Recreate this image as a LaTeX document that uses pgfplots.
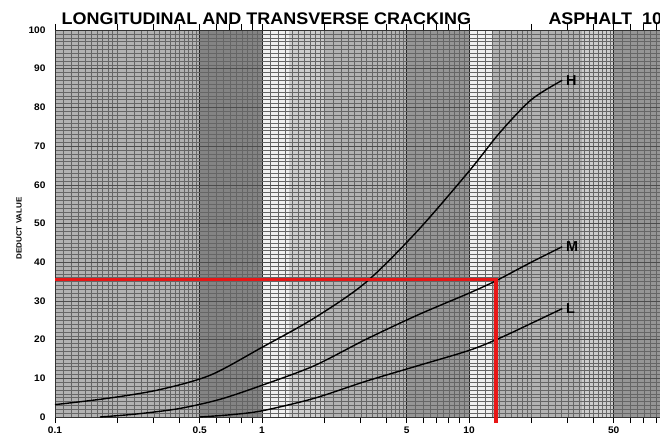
\documentclass[border=0pt]{standalone}
\usepackage{fontspec}
\setmainfont{Liberation Sans}
\newfontfamily\titlefont[FakeStretch=1.07]{Liberation Sans Bold}
\usepackage{pgfplots}
\pgfplotsset{compat=1.18}
\definecolor{chartRed}{RGB}{232,22,22}
\definecolor{bandMid}{RGB}{178,178,178}
\definecolor{bandDark}{RGB}{132,132,132}
\definecolor{bandDeep}{RGB}{150,150,150}
\definecolor{bandLight}{RGB}{205,205,205}
\definecolor{bandWhite}{RGB}{240,240,240}

\begin{document}
\begin{tikzpicture}
\begin{axis}[
    set layers,
    xmode=log,
    scale only axis, width=621pt, height=387pt,
    xmin=0.1, xmax=100, ymin=0, ymax=100,
    clip=false,
    xtick={0.1,0.5,1,5,10,50,100},
    xticklabels={0.1,0.5,1,5,10,50,100},
    ytick={0,10,...,100},
    minor xtick={0.1,0.11,...,0.2, 0.2,0.22,...,0.5, 0.5,0.55,...,1,
                 1,1.1,...,2, 2,2.2,...,5, 5,5.5,...,10,
                 10,11,...,20, 20,22,...,50, 50,55,...,100},
    minor ytick={0,1,...,100},
    grid=both,
    minor x grid style={black!60, line width=0.4pt},
    minor y grid style={black!60, line width=0.4pt},
    major x grid style={black!85, line width=0.7pt},
    major y grid style={black!70, line width=0.5pt},
    minor tick length=0pt,
    tick align=outside,
    major tick length=6pt,
    ytick style={draw=none},
    xtick style={black, line width=0.9pt},
    extra x ticks={0.2,0.3,0.4,0.6,0.7,0.8,0.9,2,3,4,6,7,8,9,20,30,40,60,70,80,90},
    extra x tick labels={},
    extra x tick style={grid=none},
    axis line style={black!80, line width=0.8pt},
    tick label style={font=\titlefont\fontsize{9.5}{10}\selectfont},
    /pgf/number format/assume math mode=true,
    ylabel={DEDUCT VALUE},
    ylabel style={font=\titlefont\fontsize{7.5}{8}\selectfont, xshift=-5pt},
]
% paper tone behind the grid
\addplot[on layer=axis background, fill=bandMid, draw=none] coordinates {(0.1,100) (0.5,100)} \closedcycle;
\addplot[on layer=axis background, fill=bandDark, draw=none] coordinates {(0.5,100) (1,100)} \closedcycle;
\addplot[on layer=axis background, fill=bandWhite, draw=none] coordinates {(1,100) (1.35,100)} \closedcycle;
\addplot[on layer=axis background, fill=bandLight, draw=none] coordinates {(1.35,100) (2,100)} \closedcycle;
\addplot[on layer=axis background, fill=bandMid, draw=none] coordinates {(2,100) (5,100)} \closedcycle;
\addplot[on layer=axis background, fill=bandDeep, draw=none] coordinates {(5,100) (10,100)} \closedcycle;
\addplot[on layer=axis background, fill=bandWhite, draw=none] coordinates {(10,100) (13,100)} \closedcycle;
\addplot[on layer=axis background, fill=bandMid, draw=none] coordinates {(13,100) (35,100)} \closedcycle;
\addplot[on layer=axis background, fill=bandLight, draw=none] coordinates {(35,100) (50,100)} \closedcycle;
\addplot[on layer=axis background, fill=bandDeep, draw=none] coordinates {(50,100) (100,100)} \closedcycle;
% H curve
\addplot[black, line width=1.4pt, smooth] coordinates {
    (0.1,3.2) (0.178,4.8) (0.316,7.0) (0.562,10.8) (1,18) (1.78,25.5)
    (3.16,34.7) (5.62,48) (10,63.5) (14.1,73.5) (20,82) (28.2,87)
} node[pos=1, right, font=\bfseries\Large] {H};
% M curve
\addplot[black, line width=1.4pt, smooth] coordinates {
    (0.165,0) (0.25,0.8) (0.4,2.2) (0.63,4.6) (1,8.2) (1.78,13.2)
    (3.16,20) (5.62,26.3) (10,32) (13.5,35.2) (20,40) (28.2,44)
} node[pos=1, right, font=\bfseries\Large] {M};
% L curve
\addplot[black, line width=1.4pt, smooth] coordinates {
    (0.5,0) (0.71,0.6) (1,1.6) (1.78,4.8) (3.16,9.2) (5.62,13.2)
    (10,17.2) (14.1,20.4) (20,24.2) (28.2,28)
} node[pos=1, right, font=\bfseries\Large] {L};
% reading lines
\addplot[chartRed, line width=3.2pt] coordinates {
    (0.1,35.5) (13.5,35.5) (13.5,-1.6)
};
\node[anchor=base west, font=\titlefont\fontsize{16.8}{18}\selectfont, yshift=5pt]
    at (rel axis cs:0.005,1) {LONGITUDINAL AND TRANSVERSE CRACKING};
\node[anchor=base west, font=\titlefont\fontsize{16.8}{18}\selectfont, yshift=5pt]
    at (rel axis cs:0.789,1) {ASPHALT \ 10};
\end{axis}
\pgfresetboundingbox
\path[use as bounding box] (-55pt,-25pt) rectangle (605pt,417pt);
\end{tikzpicture}
\end{document}
